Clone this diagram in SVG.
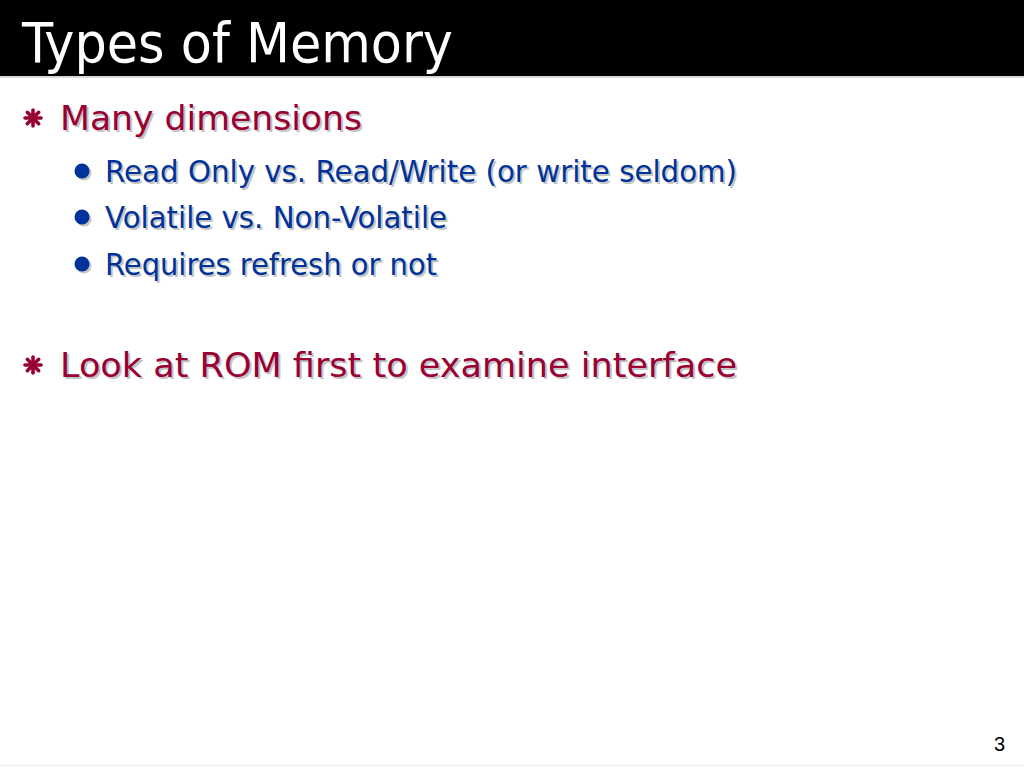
<svg xmlns="http://www.w3.org/2000/svg" xmlns:xlink="http://www.w3.org/1999/xlink" width="1024" height="768" viewBox="0 0 1024 768">
<style>
.title{font-family:"DejaVu Sans Condensed","DejaVu Sans",sans-serif;font-size:56px;fill:#ffffff}
.l1{font-family:"DejaVu Sans",Verdana,sans-serif;font-size:33px;fill:#990033}
.l2{font-family:"DejaVu Sans",Verdana,sans-serif;font-size:31px;fill:#003399}
.sh{fill:#c4c4c4}
.pg{font-family:"Liberation Sans",Arial,sans-serif;font-size:20px;fill:#000000}
</style>
<defs>
<g id="star">
<g stroke="#990033" stroke-width="3.6" stroke-linecap="round">
<line x1="-8" y1="0" x2="8" y2="0"/>
<line x1="0" y1="-8" x2="0" y2="8"/>
<line x1="-5.7" y1="-5.7" x2="5.7" y2="5.7"/>
<line x1="-5.7" y1="5.7" x2="5.7" y2="-5.7"/>
</g>
<circle r="3.5" fill="#990033"/>
</g>
</defs>
<rect width="1024" height="768" fill="#ffffff"/>
<g id="title-bar">
<rect x="0" y="0" width="1024" height="76" fill="#000000"/>
<rect x="0" y="76" width="1024" height="2" fill="#d8d8d8"/>
<text class="title" x="22" y="62" textLength="431" lengthAdjust="spacingAndGlyphs">Types of Memory</text>
</g>
<g id="bullet-many">
<use xlink:href="#star" x="33" y="118"/>
<text class="l1 sh" x="62" y="132" textLength="302" lengthAdjust="spacingAndGlyphs">Many dimensions</text>
<text class="l1" x="60" y="130" textLength="302" lengthAdjust="spacingAndGlyphs">Many dimensions</text>
</g>
<g id="bullet-readonly">
<circle cx="84" cy="173" r="7.5" fill="#c4c4c4"/>
<circle cx="82" cy="171" r="7.5" fill="#003399"/>
<text class="l2 sh" x="107" y="184" textLength="632" lengthAdjust="spacingAndGlyphs">Read Only vs. Read/Write (or write seldom)</text>
<text class="l2" x="105" y="182" textLength="632" lengthAdjust="spacingAndGlyphs">Read Only vs. Read/Write (or write seldom)</text>
</g>
<g id="bullet-volatile">
<circle cx="84" cy="219" r="7.5" fill="#c4c4c4"/>
<circle cx="82" cy="217" r="7.5" fill="#003399"/>
<text class="l2 sh" x="107" y="230" textLength="342" lengthAdjust="spacingAndGlyphs">Volatile vs. Non-Volatile</text>
<text class="l2" x="105" y="228" textLength="342" lengthAdjust="spacingAndGlyphs">Volatile vs. Non-Volatile</text>
</g>
<g id="bullet-refresh">
<circle cx="84" cy="266" r="7.5" fill="#c4c4c4"/>
<circle cx="82" cy="264" r="7.5" fill="#003399"/>
<text class="l2 sh" x="107" y="277" textLength="332" lengthAdjust="spacingAndGlyphs">Requires refresh or not</text>
<text class="l2" x="105" y="275" textLength="332" lengthAdjust="spacingAndGlyphs">Requires refresh or not</text>
</g>
<g id="bullet-rom">
<use xlink:href="#star" x="33" y="365"/>
<text class="l1 sh" x="62" y="379" textLength="677" lengthAdjust="spacingAndGlyphs">Look at ROM first to examine interface</text>
<text class="l1" x="60" y="377" textLength="677" lengthAdjust="spacingAndGlyphs">Look at ROM first to examine interface</text>
</g>
<g id="page-number">
<text class="pg" x="1005" y="751" text-anchor="end">3</text>
<rect x="0" y="765" width="1024" height="1" fill="#eeeeee"/>
</g>
</svg>
